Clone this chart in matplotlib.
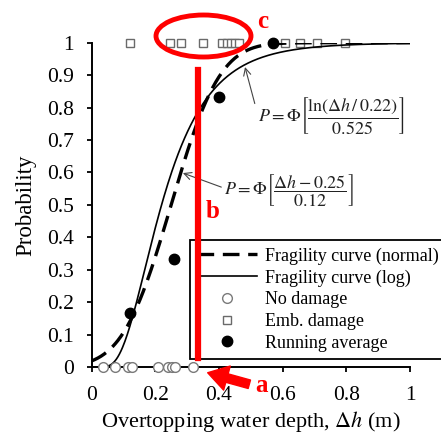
import math
import numpy as np
import matplotlib
matplotlib.use("Agg")
import matplotlib.pyplot as plt
from matplotlib.patches import Ellipse, FancyArrowPatch
from matplotlib.lines import Line2D
from matplotlib.ticker import FuncFormatter, MultipleLocator

# ---------------- data ----------------
no_damage_x = [0.037, 0.074, 0.116, 0.126, 0.210, 0.241, 0.252, 0.262, 0.320]
emb_damage_x = [0.121, 0.246, 0.280, 0.349, 0.409, 0.424, 0.437, 0.450, 0.464,
                0.607, 0.655, 0.707, 0.796]
running_avg_x = [0.120, 0.259, 0.400, 0.571]
running_avg_y = [0.167, 0.333, 0.833, 1.000]

normal_mean = 0.25
normal_sd = 0.12
log_median = 0.22
log_zeta = 0.525

legend_labels = ["Fragility curve (normal)", "Fragility curve (log)",
                 "No damage", "Emb. damage", "Running average"]
xlabel = "Overtopping water depth, $\\Delta h$ (m)"
ylabel = "Probability"

# ---------------- style ----------------
plt.rcParams['font.family'] = ['Liberation Serif', 'DejaVu Serif']
plt.rcParams['mathtext.fontset'] = 'stix'

W, H = 441, 436
fig = plt.figure(figsize=(W / 100, H / 100), dpi=100)
x0, x1, y0, y1 = 91.5, 410.0, 367.0, 42.7
ax = fig.add_axes([x0 / W, 1 - y0 / H, (x1 - x0) / W, (y0 - y1) / H])


def Phi(z):
    return 0.5 * (1 + math.erf(z / math.sqrt(2)))


xs = np.linspace(0, 1, 401)
p_norm = [Phi((x - normal_mean) / normal_sd) for x in xs]
xs_log = xs[1:]
p_log = [Phi(math.log(x / log_median) / log_zeta) for x in xs_log]

ax.plot(xs, p_norm, color='black', lw=2.4, linestyle=(0, (5, 2.6)),
        label=legend_labels[0], zorder=3)
ax.plot(xs_log, p_log, color='black', lw=1.2, label=legend_labels[1], zorder=3)
ax.plot(no_damage_x, [0] * len(no_damage_x), linestyle='none', marker='o',
        ms=7, mfc='white', mec='#7a7a7a', mew=1.0, clip_on=False,
        label=legend_labels[2], zorder=4)
ax.plot(emb_damage_x, [1] * len(emb_damage_x), linestyle='none', marker='s',
        ms=5.5, mfc='white', mec='#6a6a6a', mew=1.0, clip_on=False,
        label=legend_labels[3], zorder=2)
ax.plot(running_avg_x, running_avg_y, linestyle='none', marker='o',
        ms=7.5, mfc='black', mec='black', clip_on=False,
        label=legend_labels[4], zorder=5)

ax.set_xlim(0, 1)
ax.set_ylim(0, 1)
ax.xaxis.set_major_locator(MultipleLocator(0.2))
ax.yaxis.set_major_locator(MultipleLocator(0.1))
fmt = FuncFormatter(lambda v, p: "{:g}".format(round(v, 2)))
ax.xaxis.set_major_formatter(fmt)
ax.yaxis.set_major_formatter(fmt)
ax.tick_params(direction='out', length=3.6, width=1.3, labelsize=15.5,
               colors='black')
ax.tick_params(axis='x', pad=10)
ax.tick_params(axis='y', pad=9)
for s in ['top', 'right']:
    ax.spines[s].set_visible(False)
for s in ['left', 'bottom']:
    ax.spines[s].set_linewidth(1.4)
ax.set_xlabel(xlabel, fontsize=16, labelpad=3)
ax.set_ylabel(ylabel, fontsize=16.5, labelpad=8)

leg = ax.legend(loc='upper left', bbox_to_anchor=(190 / W, 1 - 240 / H),
                bbox_transform=fig.transFigure, fontsize=13, frameon=True,
                fancybox=False, edgecolor='black', handlelength=3.3,
                handletextpad=0.45, labelspacing=0.26, borderpad=0.4,
                borderaxespad=0)
leg.get_frame().set_linewidth(1.3)
leg.get_frame().set_alpha(1)

# formula annotations
ax.annotate(r"$P=\Phi\left[\dfrac{\ln(\Delta h\,/\,0.22)}{0.525}\right]$",
            xy=(0.482, 0.925), xytext=(0.752, 0.774), textcoords='data',
            ha='center', va='center', fontsize=13, color='#222222',
            arrowprops=dict(arrowstyle='->', color='#444444', lw=0.8,
                            shrinkA=0, shrinkB=0, relpos=(0.0, 0.55)))
ax.annotate(r"$P=\Phi\left[\dfrac{\Delta h-0.25}{0.12}\right]$",
            xy=(0.287, 0.598), xytext=(0.62, 0.546), textcoords='data',
            ha='center', va='center', fontsize=13, color='#222222',
            arrowprops=dict(arrowstyle='->', color='#444444', lw=0.8,
                            shrinkA=0, shrinkB=0, relpos=(0.0, 0.55)))


# ---------------- red overlays ----------------
def fp(x, y):
    return (x / W, 1 - y / H)


fig.add_artist(Line2D([198 / W, 198 / W], [1 - 70 / H, 1 - 358 / H],
                      color='red', lw=4.5, transform=fig.transFigure, zorder=10))
fig.add_artist(Ellipse(fp(203.5, 36), 95 / W, 42 / H, fill=False,
                       edgecolor='red', lw=3.5, transform=fig.transFigure,
                       zorder=10))
fig.add_artist(FancyArrowPatch(fp(252, 385), fp(205, 372),
                               arrowstyle='simple,head_length=0.8,head_width=1.0,tail_width=0.35',
                               mutation_scale=18, color='red',
                               transform=fig.transFigure, zorder=10))
for letter, (lx, ly) in [('a', (261, 385)), ('b', (213, 211)), ('c', (263, 22))]:
    fig.text(lx / W, 1 - ly / H, letter, color='red', fontsize=18,
             fontweight='bold', ha='center', va='center', zorder=11)

fig.savefig('out.png', dpi=100)
